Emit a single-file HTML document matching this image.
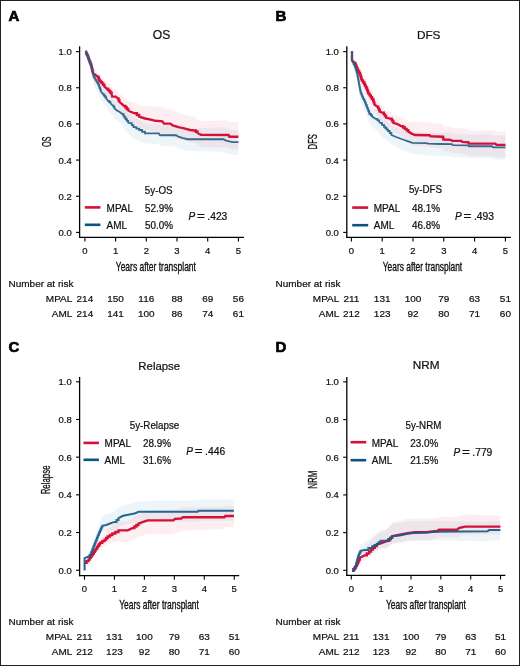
<!DOCTYPE html>
<html><head><meta charset="utf-8"><style>
html,body{margin:0;padding:0;background:#fff;}
svg{display:block;filter:blur(0.4px);}
text{font-family:"Liberation Sans", sans-serif;fill:#111;stroke:#111;stroke-width:0.22px;}
</style></head><body>
<svg width="520" height="666" viewBox="0 0 520 666">
<rect x="0" y="0" width="520" height="666" fill="#fff"/>
<text x="8.5" y="21" font-size="15" text-anchor="start" font-weight="bold" font-style="normal" style="stroke:#000;fill:#000;stroke-width:0.7px">A</text>
<text x="161.5" y="39" font-size="12.1" text-anchor="middle" font-weight="normal" font-style="normal" >OS</text>
<text transform="translate(50.5,141.8) rotate(-90)" x="0" y="0" font-size="12.2" text-anchor="middle" style="stroke-width:0.3px" textLength="10.6" lengthAdjust="spacingAndGlyphs">OS</text>
<path d="M85.40,51.33 L87.60,54.93 L89.40,58.76 L91.20,62.58 L92.40,66.73 L93.00,68.80 L95.40,69.79 L97.80,71.20 L99.60,75.11 L102.00,77.11 L104.40,79.72 L106.80,81.78 L109.20,84.05 L111.60,86.92 L112.20,89.28 L115.80,89.07 L117.60,90.57 L119.40,93.88 L121.80,95.29 L124.10,97.12 L128.20,100.85 L130.00,101.65 L134.60,102.71 L139.20,105.36 L145.00,106.21 L150.80,106.37 L155.40,106.82 L162.30,106.32 L164.00,108.69 L170.40,108.93 L172.70,110.82 L178.40,112.73 L184.20,114.15 L190.00,116.07 L194.30,116.73 L197.60,119.25 L200.80,121.17 L228.60,120.40 L229.40,122.07 L238.40,121.70 L238.40,149.70 L229.40,149.58 L228.60,147.87 L200.80,147.21 L197.60,145.37 L194.30,142.93 L190.00,142.37 L184.20,140.59 L178.40,139.32 L172.70,137.54 L170.40,135.71 L164.00,135.63 L162.30,133.31 L155.40,132.39 L150.80,130.89 L145.00,129.42 L139.20,127.24 L134.60,123.54 L130.00,121.38 L128.20,120.04 L124.10,115.11 L121.80,112.61 L119.40,110.50 L117.60,106.66 L115.80,104.63 L112.20,104.23 L111.60,101.77 L109.20,98.51 L106.80,95.84 L104.40,93.08 L102.00,89.69 L99.60,86.89 L97.80,82.40 L95.40,80.21 L93.00,77.60 L92.40,74.87 L91.20,69.42 L89.40,63.64 L87.60,57.87 L85.40,51.87 Z" fill="rgba(225,30,70,0.075)" stroke="none"/>
<path d="M85.40,51.27 L87.60,54.64 L89.40,58.27 L91.20,61.90 L92.40,65.91 L93.60,71.13 L95.40,73.59 L97.20,76.30 L99.00,79.60 L100.80,84.11 L102.60,86.22 L104.40,88.32 L106.20,90.43 L108.00,92.63 L110.40,94.76 L112.80,96.90 L114.60,99.71 L117.00,101.31 L120.00,102.91 L122.40,104.56 L124.40,107.93 L128.20,112.78 L130.00,113.16 L133.50,117.10 L139.20,120.00 L145.00,123.40 L158.80,123.40 L160.00,125.20 L176.10,124.82 L178.40,126.26 L183.10,127.54 L187.70,128.52 L223.70,127.58 L225.40,128.74 L230.30,129.81 L232.70,130.25 L238.40,130.10 L238.40,155.10 L232.70,154.95 L230.30,154.39 L225.40,153.06 L223.70,151.82 L187.70,150.88 L183.10,149.66 L178.40,148.14 L176.10,146.58 L160.00,146.09 L158.80,144.21 L145.00,143.57 L139.20,140.93 L133.50,138.77 L130.00,134.98 L128.20,134.24 L124.40,128.65 L122.40,124.89 L120.00,122.77 L117.00,120.58 L114.60,118.49 L112.80,115.30 L110.40,112.64 L108.00,109.97 L106.20,107.40 L104.40,105.00 L102.60,102.60 L100.80,100.20 L99.00,95.40 L97.20,91.80 L95.40,88.80 L93.60,85.30 L92.40,78.13 L91.20,72.16 L89.40,65.60 L87.60,59.04 L85.40,52.09 Z" fill="rgba(60,140,185,0.085)" stroke="none"/>
<polyline points="85.40,51.60 86.13,51.60 86.13,53.20 86.87,53.20 86.87,54.80 87.60,54.80 87.60,56.40 88.20,56.40 88.20,58.00 88.80,58.00 88.80,59.60 89.40,59.60 89.40,61.20 90.00,61.20 90.00,62.80 90.60,62.80 90.60,64.40 91.20,64.40 91.20,66.00 91.60,66.00 91.60,67.60 92.00,67.60 92.00,69.20 92.40,69.20 92.40,70.80 92.70,70.80 92.70,72.00 93.00,72.00 93.00,73.20 95.40,75.00 97.80,76.80 98.40,76.80 98.40,78.20 99.00,78.20 99.00,79.60 99.60,79.60 99.60,81.00 100.80,81.00 100.80,82.20 102.00,82.20 102.00,83.40 103.20,83.40 103.20,84.90 104.40,84.90 104.40,86.40 106.80,88.80 108.00,88.80 108.00,90.00 109.20,90.00 109.20,91.20 110.40,91.20 110.40,92.70 111.60,92.70 111.60,94.20 112.20,96.60 115.80,96.60 117.60,98.40 118.50,98.40 118.50,100.20 119.40,100.20 119.40,102.00 121.80,103.80 124.10,106.00 125.47,106.00 125.47,107.47 126.83,107.47 126.83,108.93 128.20,108.93 128.20,110.40 130.00,111.50 134.60,113.30 136.90,113.30 136.90,115.00 139.20,115.00 139.20,116.70 145.00,118.50 150.80,119.60 155.40,120.80 162.30,121.30 164.00,123.60 170.40,123.60 172.70,125.40 178.40,127.10 184.20,128.30 190.00,130.00 194.30,130.50 195.95,130.50 195.95,131.70 197.60,131.70 197.60,132.90 200.80,134.70 228.60,135.00 229.40,136.70 238.40,136.70" fill="none" stroke="#d61039" stroke-width="2.4" stroke-linejoin="miter" stroke-linecap="butt" opacity="1.0"/>
<polyline points="85.40,51.60 86.13,51.60 86.13,53.20 86.87,53.20 86.87,54.80 87.60,54.80 87.60,56.40 88.20,56.40 88.20,58.00 88.80,58.00 88.80,59.60 89.40,59.60 89.40,61.20 90.00,61.20 90.00,62.80 90.60,62.80 90.60,64.40 91.20,64.40 91.20,66.00 91.60,66.00 91.60,67.60 92.00,67.60 92.00,69.20 92.40,69.20 92.40,70.80 92.70,70.80 92.70,72.30 93.00,72.30 93.00,73.80 93.30,73.80 93.30,75.30 93.60,75.30 93.60,76.80 94.50,76.80 94.50,78.30 95.40,78.30 95.40,79.80 96.30,79.80 96.30,81.30 97.20,81.30 97.20,82.80 98.10,82.80 98.10,84.60 99.00,84.60 99.00,86.40 99.60,86.40 99.60,88.00 100.20,88.00 100.20,89.60 100.80,89.60 100.80,91.20 102.60,93.60 103.50,93.60 103.50,94.80 104.40,94.80 104.40,96.00 105.30,96.00 105.30,97.20 106.20,97.20 106.20,98.40 108.00,100.80 109.20,100.80 109.20,102.00 110.40,102.00 110.40,103.20 112.80,105.60 113.70,105.60 113.70,107.10 114.60,107.10 114.60,108.60 117.00,110.40 120.00,112.20 122.40,114.00 123.40,114.00 123.40,115.75 124.40,115.75 124.40,117.50 125.67,117.50 125.67,119.20 126.93,119.20 126.93,120.90 128.20,120.90 128.20,122.60 130.00,123.10 131.75,123.10 131.75,125.10 133.50,125.10 133.50,127.10 136.35,127.10 136.35,128.55 139.20,128.55 139.20,130.00 142.10,130.00 142.10,131.70 145.00,131.70 145.00,133.40 158.80,133.40 160.00,135.20 176.10,135.20 178.40,136.70 183.10,138.10 187.70,139.20 223.70,139.20 225.40,140.40 230.30,141.60 232.70,142.10 238.40,142.10" fill="none" stroke="#235f86" stroke-width="1.85" stroke-linejoin="miter" stroke-linecap="butt" opacity="0.92"/>
<line x1="79.6" y1="46.3" x2="79.6" y2="237.95000000000002" stroke="#000" stroke-width="1.3"/>
<line x1="78.94999999999999" y1="237.3" x2="243.9" y2="237.3" stroke="#000" stroke-width="1.3"/>
<line x1="76.0" y1="232.4" x2="79.6" y2="232.4" stroke="#000" stroke-width="1.1"/>
<text transform="translate(71.70,235.90) scale(1,1.02)" font-size="9.5" text-anchor="end" font-weight="normal" font-style="normal" >0.0</text>
<line x1="76.0" y1="196.24" x2="79.6" y2="196.24" stroke="#000" stroke-width="1.1"/>
<text transform="translate(71.70,199.74) scale(1,1.02)" font-size="9.5" text-anchor="end" font-weight="normal" font-style="normal" >0.2</text>
<line x1="76.0" y1="160.07999999999998" x2="79.6" y2="160.07999999999998" stroke="#000" stroke-width="1.1"/>
<text transform="translate(71.70,163.58) scale(1,1.02)" font-size="9.5" text-anchor="end" font-weight="normal" font-style="normal" >0.4</text>
<line x1="76.0" y1="123.91999999999999" x2="79.6" y2="123.91999999999999" stroke="#000" stroke-width="1.1"/>
<text transform="translate(71.70,127.42) scale(1,1.02)" font-size="9.5" text-anchor="end" font-weight="normal" font-style="normal" >0.6</text>
<line x1="76.0" y1="87.75999999999999" x2="79.6" y2="87.75999999999999" stroke="#000" stroke-width="1.1"/>
<text transform="translate(71.70,91.26) scale(1,1.02)" font-size="9.5" text-anchor="end" font-weight="normal" font-style="normal" >0.8</text>
<line x1="76.0" y1="51.599999999999994" x2="79.6" y2="51.599999999999994" stroke="#000" stroke-width="1.1"/>
<text transform="translate(71.70,55.10) scale(1,1.02)" font-size="9.5" text-anchor="end" font-weight="normal" font-style="normal" >1.0</text>
<line x1="84.9" y1="237.3" x2="84.9" y2="241.5" stroke="#000" stroke-width="1.1"/>
<text transform="translate(84.90,254.20) scale(1,1.03)" font-size="9.5" text-anchor="middle" font-weight="normal" font-style="normal" >0</text>
<line x1="115.60000000000001" y1="237.3" x2="115.60000000000001" y2="241.5" stroke="#000" stroke-width="1.1"/>
<text transform="translate(115.60,254.20) scale(1,1.03)" font-size="9.5" text-anchor="middle" font-weight="normal" font-style="normal" >1</text>
<line x1="146.3" y1="237.3" x2="146.3" y2="241.5" stroke="#000" stroke-width="1.1"/>
<text transform="translate(146.30,254.20) scale(1,1.03)" font-size="9.5" text-anchor="middle" font-weight="normal" font-style="normal" >2</text>
<line x1="177.0" y1="237.3" x2="177.0" y2="241.5" stroke="#000" stroke-width="1.1"/>
<text transform="translate(177.00,254.20) scale(1,1.03)" font-size="9.5" text-anchor="middle" font-weight="normal" font-style="normal" >3</text>
<line x1="207.7" y1="237.3" x2="207.7" y2="241.5" stroke="#000" stroke-width="1.1"/>
<text transform="translate(207.70,254.20) scale(1,1.03)" font-size="9.5" text-anchor="middle" font-weight="normal" font-style="normal" >4</text>
<line x1="238.4" y1="237.3" x2="238.4" y2="241.5" stroke="#000" stroke-width="1.1"/>
<text transform="translate(238.40,254.20) scale(1,1.03)" font-size="9.5" text-anchor="middle" font-weight="normal" font-style="normal" >5</text>
<text x="115.8" y="271.0" font-size="11.9" style="stroke-width:0.35px" textLength="80.1" lengthAdjust="spacingAndGlyphs">Years after transplant</text>
<text transform="translate(158.70,193.50) scale(1,1.08)" font-size="9.8" text-anchor="middle" font-weight="normal" font-style="normal" >5y-OS</text>
<line x1="84.8" y1="207.4" x2="100.4" y2="207.4" stroke="#d61039" stroke-width="2.6"/>
<line x1="84.8" y1="224.8" x2="100.4" y2="224.8" stroke="#0b5481" stroke-width="2.6"/>
<text transform="translate(106.60,211.70) scale(1,1.06)" font-size="10" text-anchor="start" font-weight="normal" font-style="normal" >MPAL</text>
<text transform="translate(106.60,228.60) scale(1,1.06)" font-size="10" text-anchor="start" font-weight="normal" font-style="normal" >AML</text>
<text transform="translate(144.90,211.70) scale(1,1.12)" font-size="9.9" text-anchor="start" font-weight="normal" font-style="normal" >52.9%</text>
<text transform="translate(144.90,228.60) scale(1,1.12)" font-size="9.9" text-anchor="start" font-weight="normal" font-style="normal" >50.0%</text>
<text x="188.4" y="220.2" font-size="10" font-style="italic">P</text>
<text transform="translate(196.90,220.2) scale(1.35,1)" font-size="10">=</text>
<text transform="translate(207.30,220.2) scale(1.03,1.08)" font-size="10">.423</text>
<text transform="translate(8.50,287.00) scale(1,0.99)" font-size="10" text-anchor="start" font-weight="normal" font-style="normal" >Number at risk</text>
<text transform="translate(72.30,302.10) scale(1,0.99)" font-size="10" text-anchor="end" font-weight="normal" font-style="normal" >MPAL</text>
<text transform="translate(72.30,317.20) scale(1,0.99)" font-size="10" text-anchor="end" font-weight="normal" font-style="normal" >AML</text>
<text transform="translate(84.90,302.10) scale(1,0.99)" font-size="10" text-anchor="middle" font-weight="normal" font-style="normal" >214</text>
<text transform="translate(84.90,317.20) scale(1,0.99)" font-size="10" text-anchor="middle" font-weight="normal" font-style="normal" >214</text>
<text transform="translate(115.60,302.10) scale(1,0.99)" font-size="10" text-anchor="middle" font-weight="normal" font-style="normal" >150</text>
<text transform="translate(115.60,317.20) scale(1,0.99)" font-size="10" text-anchor="middle" font-weight="normal" font-style="normal" >141</text>
<text transform="translate(146.30,302.10) scale(1,0.99)" font-size="10" text-anchor="middle" font-weight="normal" font-style="normal" >116</text>
<text transform="translate(146.30,317.20) scale(1,0.99)" font-size="10" text-anchor="middle" font-weight="normal" font-style="normal" >100</text>
<text transform="translate(177.00,302.10) scale(1,0.99)" font-size="10" text-anchor="middle" font-weight="normal" font-style="normal" >88</text>
<text transform="translate(177.00,317.20) scale(1,0.99)" font-size="10" text-anchor="middle" font-weight="normal" font-style="normal" >86</text>
<text transform="translate(207.70,302.10) scale(1,0.99)" font-size="10" text-anchor="middle" font-weight="normal" font-style="normal" >69</text>
<text transform="translate(207.70,317.20) scale(1,0.99)" font-size="10" text-anchor="middle" font-weight="normal" font-style="normal" >74</text>
<text transform="translate(238.40,302.10) scale(1,0.99)" font-size="10" text-anchor="middle" font-weight="normal" font-style="normal" >56</text>
<text transform="translate(238.40,317.20) scale(1,0.99)" font-size="10" text-anchor="middle" font-weight="normal" font-style="normal" >61</text>
<text x="275.5" y="21" font-size="15" text-anchor="start" font-weight="bold" font-style="normal" style="stroke:#000;fill:#000;stroke-width:0.7px">B</text>
<text x="428.7" y="39" font-size="11.8" text-anchor="middle" font-weight="normal" font-style="normal" >DFS</text>
<text transform="translate(317.2,141.75) rotate(-90)" x="0" y="0" font-size="12.2" text-anchor="middle" style="stroke-width:0.3px" textLength="15.3" lengthAdjust="spacingAndGlyphs">DFS</text>
<path d="M352.00,50.52 L352.00,59.32 L352.80,59.61 L354.60,59.36 L356.40,61.52 L358.20,64.14 L360.00,66.41 L361.80,71.68 L364.20,74.56 L366.60,79.65 L368.40,84.67 L370.80,88.56 L373.20,92.45 L374.40,96.20 L377.40,98.84 L379.80,103.72 L382.70,105.02 L386.10,109.83 L390.80,111.28 L393.50,115.29 L397.50,116.37 L401.50,117.91 L404.90,119.39 L408.30,120.88 L411.60,121.70 L415.00,121.89 L429.80,122.29 L430.50,123.29 L442.70,123.74 L443.40,126.44 L450.80,126.81 L452.10,127.81 L461.50,127.77 L462.20,128.77 L468.30,129.04 L468.90,130.44 L495.20,130.34 L496.50,131.63 L505.50,131.60 L505.50,157.90 L496.50,157.70 L495.20,156.37 L468.90,155.78 L468.30,154.37 L462.20,153.93 L461.50,152.92 L452.10,152.71 L450.80,151.68 L443.40,151.11 L442.70,148.40 L430.50,147.62 L429.80,146.61 L415.00,145.91 L411.60,144.24 L408.30,141.97 L404.90,138.99 L401.50,136.02 L397.50,133.69 L393.50,132.07 L390.80,127.76 L386.10,126.15 L382.70,121.23 L379.80,119.84 L377.40,114.89 L374.40,112.40 L373.20,108.80 L370.80,105.20 L368.40,101.60 L366.60,96.80 L364.20,92.00 L361.80,87.78 L360.00,81.19 L358.20,77.61 L356.40,72.07 L354.60,66.12 L352.80,62.56 L352.00,60.58 L352.00,51.78 Z" fill="rgba(225,30,70,0.075)" stroke="none"/>
<path d="M352.00,50.62 L352.00,59.42 L352.80,61.04 L355.20,63.50 L357.00,67.75 L358.20,72.99 L359.40,79.80 L360.60,85.41 L362.40,89.63 L364.80,93.91 L367.20,99.72 L369.60,105.52 L372.00,107.73 L375.60,109.84 L379.20,112.80 L380.00,113.90 L384.00,117.90 L388.10,122.00 L391.40,126.00 L396.20,127.61 L401.50,129.18 L406.90,130.75 L412.30,132.11 L425.80,131.99 L428.50,132.56 L440.00,132.73 L452.10,132.80 L452.80,133.79 L468.30,133.72 L468.90,134.61 L491.80,134.35 L493.20,135.44 L505.50,135.30 L505.50,159.50 L493.20,159.47 L491.80,158.36 L468.90,158.31 L468.30,157.40 L452.80,157.26 L452.10,156.26 L440.00,156.03 L428.50,155.70 L425.80,154.89 L412.30,153.68 L406.90,151.70 L401.50,149.53 L396.20,147.02 L391.40,144.51 L388.10,141.40 L384.00,138.41 L380.00,134.54 L379.20,133.31 L375.60,129.73 L372.00,126.74 L369.60,123.95 L367.20,117.56 L364.80,111.18 L362.40,105.99 L360.60,100.89 L359.40,94.70 L358.20,87.30 L357.00,80.47 L355.20,72.14 L352.80,64.22 L352.00,60.78 L352.00,51.98 Z" fill="rgba(60,140,185,0.085)" stroke="none"/>
<polyline points="352.00,51.20 352.00,60.00 352.80,61.20 354.60,63.00 355.20,63.00 355.20,64.40 355.80,64.40 355.80,65.80 356.40,65.80 356.40,67.20 357.00,67.20 357.00,68.60 357.60,68.60 357.60,70.00 358.20,70.00 358.20,71.40 359.10,71.40 359.10,72.90 360.00,72.90 360.00,74.40 360.45,74.40 360.45,75.90 360.90,75.90 360.90,77.40 361.35,77.40 361.35,78.90 361.80,78.90 361.80,80.40 363.00,80.40 363.00,82.20 364.20,82.20 364.20,84.00 365.00,84.00 365.00,85.60 365.80,85.60 365.80,87.20 366.60,87.20 366.60,88.80 367.20,88.80 367.20,90.40 367.80,90.40 367.80,92.00 368.40,92.00 368.40,93.60 369.60,93.60 369.60,95.40 370.80,95.40 370.80,97.20 372.00,97.20 372.00,99.00 373.20,99.00 373.20,100.80 373.80,100.80 373.80,102.60 374.40,102.60 374.40,104.40 377.40,106.80 378.20,106.80 378.20,108.40 379.00,108.40 379.00,110.00 379.80,110.00 379.80,111.60 382.70,112.80 383.83,112.80 383.83,114.37 384.97,114.37 384.97,115.93 386.10,115.93 386.10,117.50 390.80,118.80 391.70,118.80 391.70,120.17 392.60,120.17 392.60,121.53 393.50,121.53 393.50,122.90 397.50,124.20 401.50,126.20 403.20,126.20 403.20,127.55 404.90,127.55 404.90,128.90 406.60,128.90 406.60,130.25 408.30,130.25 408.30,131.60 411.60,133.60 415.00,135.00 429.80,135.30 430.50,136.30 442.70,136.80 443.05,136.80 443.05,138.15 443.40,138.15 443.40,139.50 450.80,139.90 452.10,140.90 461.50,140.90 462.20,141.90 468.30,142.20 468.90,143.60 495.20,143.60 496.50,144.90 505.50,144.90" fill="none" stroke="#d61039" stroke-width="2.4" stroke-linejoin="miter" stroke-linecap="butt" opacity="1.0"/>
<polyline points="352.00,51.20 352.00,60.00 352.80,62.40 353.60,62.40 353.60,64.00 354.40,64.00 354.40,65.60 355.20,65.60 355.20,67.20 355.65,67.20 355.65,68.70 356.10,68.70 356.10,70.20 356.55,70.20 356.55,71.70 357.00,71.70 357.00,73.20 357.30,73.20 357.30,74.70 357.60,74.70 357.60,76.20 357.90,76.20 357.90,77.70 358.20,77.70 358.20,79.20 358.44,79.20 358.44,80.64 358.68,80.64 358.68,82.08 358.92,82.08 358.92,83.52 359.16,83.52 359.16,84.96 359.40,84.96 359.40,86.40 359.70,86.40 359.70,87.90 360.00,87.90 360.00,89.40 360.30,89.40 360.30,90.90 360.60,90.90 360.60,92.40 361.20,92.40 361.20,94.00 361.80,94.00 361.80,95.60 362.40,95.60 362.40,97.20 363.20,97.20 363.20,98.80 364.00,98.80 364.00,100.40 364.80,100.40 364.80,102.00 365.40,102.00 365.40,103.50 366.00,103.50 366.00,105.00 366.60,105.00 366.60,106.50 367.20,106.50 367.20,108.00 367.80,108.00 367.80,109.50 368.40,109.50 368.40,111.00 369.00,111.00 369.00,112.50 369.60,112.50 369.60,114.00 370.80,114.00 370.80,115.20 372.00,115.20 372.00,116.40 375.60,118.80 377.40,118.80 377.40,120.30 379.20,120.30 379.20,121.80 380.00,122.90 382.00,122.90 382.00,124.90 384.00,124.90 384.00,126.90 385.37,126.90 385.37,128.27 386.73,128.27 386.73,129.63 388.10,129.63 388.10,131.00 389.75,131.00 389.75,133.00 391.40,133.00 391.40,135.00 396.20,137.00 401.50,139.00 406.90,141.00 412.30,142.80 425.80,143.10 428.50,143.70 440.00,144.00 452.10,144.20 452.80,145.20 468.30,145.30 468.90,146.20 491.80,146.20 493.20,147.30 505.50,147.30" fill="none" stroke="#235f86" stroke-width="1.85" stroke-linejoin="miter" stroke-linecap="butt" opacity="0.92"/>
<line x1="346.8" y1="46.3" x2="346.8" y2="238.05" stroke="#000" stroke-width="1.3"/>
<line x1="346.15000000000003" y1="237.4" x2="510.9" y2="237.4" stroke="#000" stroke-width="1.3"/>
<line x1="343.2" y1="232.4" x2="346.8" y2="232.4" stroke="#000" stroke-width="1.1"/>
<text transform="translate(338.90,235.90) scale(1,1.02)" font-size="9.5" text-anchor="end" font-weight="normal" font-style="normal" >0.0</text>
<line x1="343.2" y1="196.24" x2="346.8" y2="196.24" stroke="#000" stroke-width="1.1"/>
<text transform="translate(338.90,199.74) scale(1,1.02)" font-size="9.5" text-anchor="end" font-weight="normal" font-style="normal" >0.2</text>
<line x1="343.2" y1="160.07999999999998" x2="346.8" y2="160.07999999999998" stroke="#000" stroke-width="1.1"/>
<text transform="translate(338.90,163.58) scale(1,1.02)" font-size="9.5" text-anchor="end" font-weight="normal" font-style="normal" >0.4</text>
<line x1="343.2" y1="123.91999999999999" x2="346.8" y2="123.91999999999999" stroke="#000" stroke-width="1.1"/>
<text transform="translate(338.90,127.42) scale(1,1.02)" font-size="9.5" text-anchor="end" font-weight="normal" font-style="normal" >0.6</text>
<line x1="343.2" y1="87.75999999999999" x2="346.8" y2="87.75999999999999" stroke="#000" stroke-width="1.1"/>
<text transform="translate(338.90,91.26) scale(1,1.02)" font-size="9.5" text-anchor="end" font-weight="normal" font-style="normal" >0.8</text>
<line x1="343.2" y1="51.599999999999994" x2="346.8" y2="51.599999999999994" stroke="#000" stroke-width="1.1"/>
<text transform="translate(338.90,55.10) scale(1,1.02)" font-size="9.5" text-anchor="end" font-weight="normal" font-style="normal" >1.0</text>
<line x1="351.4" y1="237.4" x2="351.4" y2="241.6" stroke="#000" stroke-width="1.1"/>
<text transform="translate(351.40,254.20) scale(1,1.03)" font-size="9.5" text-anchor="middle" font-weight="normal" font-style="normal" >0</text>
<line x1="382.2" y1="237.4" x2="382.2" y2="241.6" stroke="#000" stroke-width="1.1"/>
<text transform="translate(382.20,254.20) scale(1,1.03)" font-size="9.5" text-anchor="middle" font-weight="normal" font-style="normal" >1</text>
<line x1="413.0" y1="237.4" x2="413.0" y2="241.6" stroke="#000" stroke-width="1.1"/>
<text transform="translate(413.00,254.20) scale(1,1.03)" font-size="9.5" text-anchor="middle" font-weight="normal" font-style="normal" >2</text>
<line x1="443.79999999999995" y1="237.4" x2="443.79999999999995" y2="241.6" stroke="#000" stroke-width="1.1"/>
<text transform="translate(443.80,254.20) scale(1,1.03)" font-size="9.5" text-anchor="middle" font-weight="normal" font-style="normal" >3</text>
<line x1="474.59999999999997" y1="237.4" x2="474.59999999999997" y2="241.6" stroke="#000" stroke-width="1.1"/>
<text transform="translate(474.60,254.20) scale(1,1.03)" font-size="9.5" text-anchor="middle" font-weight="normal" font-style="normal" >4</text>
<line x1="505.4" y1="237.4" x2="505.4" y2="241.6" stroke="#000" stroke-width="1.1"/>
<text transform="translate(505.40,254.20) scale(1,1.03)" font-size="9.5" text-anchor="middle" font-weight="normal" font-style="normal" >5</text>
<text x="382.8" y="270.9" font-size="11.9" style="stroke-width:0.35px" textLength="79.39999999999995" lengthAdjust="spacingAndGlyphs">Years after transplant</text>
<text transform="translate(425.50,193.20) scale(1,1.08)" font-size="9.8" text-anchor="middle" font-weight="normal" font-style="normal" >5y-DFS</text>
<line x1="352.2" y1="207.6" x2="368.2" y2="207.6" stroke="#d61039" stroke-width="2.6"/>
<line x1="352.2" y1="225.2" x2="368.2" y2="225.2" stroke="#0b5481" stroke-width="2.6"/>
<text transform="translate(373.80,211.50) scale(1,1.06)" font-size="10" text-anchor="start" font-weight="normal" font-style="normal" >MPAL</text>
<text transform="translate(373.80,229.00) scale(1,1.06)" font-size="10" text-anchor="start" font-weight="normal" font-style="normal" >AML</text>
<text transform="translate(412.00,211.50) scale(1,1.12)" font-size="9.9" text-anchor="start" font-weight="normal" font-style="normal" >48.1%</text>
<text transform="translate(412.00,229.00) scale(1,1.12)" font-size="9.9" text-anchor="start" font-weight="normal" font-style="normal" >46.8%</text>
<text x="455.0" y="220.1" font-size="10" font-style="italic">P</text>
<text transform="translate(463.50,220.1) scale(1.35,1)" font-size="10">=</text>
<text transform="translate(473.90,220.1) scale(1.03,1.08)" font-size="10">.493</text>
<text transform="translate(275.50,287.00) scale(1,0.99)" font-size="10" text-anchor="start" font-weight="normal" font-style="normal" >Number at risk</text>
<text transform="translate(339.30,302.10) scale(1,0.99)" font-size="10" text-anchor="end" font-weight="normal" font-style="normal" >MPAL</text>
<text transform="translate(339.30,317.20) scale(1,0.99)" font-size="10" text-anchor="end" font-weight="normal" font-style="normal" >AML</text>
<text transform="translate(351.40,302.10) scale(1,0.99)" font-size="10" text-anchor="middle" font-weight="normal" font-style="normal" >211</text>
<text transform="translate(351.40,317.20) scale(1,0.99)" font-size="10" text-anchor="middle" font-weight="normal" font-style="normal" >212</text>
<text transform="translate(382.20,302.10) scale(1,0.99)" font-size="10" text-anchor="middle" font-weight="normal" font-style="normal" >131</text>
<text transform="translate(382.20,317.20) scale(1,0.99)" font-size="10" text-anchor="middle" font-weight="normal" font-style="normal" >123</text>
<text transform="translate(413.00,302.10) scale(1,0.99)" font-size="10" text-anchor="middle" font-weight="normal" font-style="normal" >100</text>
<text transform="translate(413.00,317.20) scale(1,0.99)" font-size="10" text-anchor="middle" font-weight="normal" font-style="normal" >92</text>
<text transform="translate(443.80,302.10) scale(1,0.99)" font-size="10" text-anchor="middle" font-weight="normal" font-style="normal" >79</text>
<text transform="translate(443.80,317.20) scale(1,0.99)" font-size="10" text-anchor="middle" font-weight="normal" font-style="normal" >80</text>
<text transform="translate(474.60,302.10) scale(1,0.99)" font-size="10" text-anchor="middle" font-weight="normal" font-style="normal" >63</text>
<text transform="translate(474.60,317.20) scale(1,0.99)" font-size="10" text-anchor="middle" font-weight="normal" font-style="normal" >71</text>
<text transform="translate(505.40,302.10) scale(1,0.99)" font-size="10" text-anchor="middle" font-weight="normal" font-style="normal" >51</text>
<text transform="translate(505.40,317.20) scale(1,0.99)" font-size="10" text-anchor="middle" font-weight="normal" font-style="normal" >60</text>
<text x="8.5" y="351.9" font-size="15" text-anchor="start" font-weight="bold" font-style="normal" style="stroke:#000;fill:#000;stroke-width:0.7px">C</text>
<text x="159.25" y="369.9" font-size="11.4" text-anchor="middle" font-weight="normal" font-style="normal" >Relapse</text>
<text transform="translate(50.3,479.9) rotate(-90)" x="0" y="0" font-size="12.2" text-anchor="middle" style="stroke-width:0.3px" textLength="28.8" lengthAdjust="spacingAndGlyphs">Relapse</text>
<path d="M84.60,562.67 L88.50,558.26 L93.80,548.79 L100.00,537.52 L104.60,533.17 L107.70,529.45 L112.30,525.53 L118.50,521.37 L127.70,521.16 L132.30,518.75 L138.50,514.00 L143.10,512.29 L147.70,510.68 L173.40,510.30 L175.10,508.90 L181.10,508.50 L182.90,507.30 L224.40,507.30 L225.30,506.00 L233.90,506.00 L233.90,527.22 L225.30,527.61 L224.40,528.95 L182.90,530.83 L181.10,532.11 L175.10,532.79 L173.40,534.26 L147.70,534.11 L143.10,535.26 L138.50,536.51 L132.30,540.46 L127.70,542.28 L118.50,541.31 L112.30,542.65 L107.70,544.18 L104.60,546.28 L100.00,547.88 L93.80,555.01 L88.50,560.94 L84.60,562.73 Z" fill="rgba(225,30,70,0.075)" stroke="none"/>
<path d="M84.60,570.34 L84.60,558.04 L88.50,554.16 L90.80,549.82 L93.80,540.37 L96.90,530.85 L100.00,521.34 L102.30,515.40 L106.20,514.45 L110.00,512.90 L114.60,511.24 L118.50,507.41 L123.10,505.13 L130.80,503.56 L135.40,502.59 L138.50,501.20 L197.60,500.45 L198.40,499.45 L233.90,499.50 L233.90,520.80 L198.40,520.80 L197.60,521.80 L138.50,521.30 L135.40,522.63 L130.80,523.52 L123.10,524.93 L118.50,527.13 L114.60,530.33 L110.00,531.01 L106.20,531.75 L102.30,531.74 L100.00,535.58 L96.90,542.24 L93.80,548.91 L90.80,555.60 L88.50,557.84 L84.60,558.13 L84.60,570.43 Z" fill="rgba(60,140,185,0.085)" stroke="none"/>
<polyline points="84.60,562.70 86.55,562.70 86.55,561.15 88.50,561.15 88.50,559.60 89.56,559.60 89.56,558.06 90.62,558.06 90.62,556.52 91.68,556.52 91.68,554.98 92.74,554.98 92.74,553.44 93.80,553.44 93.80,551.90 94.83,551.90 94.83,550.37 95.87,550.37 95.87,548.83 96.90,548.83 96.90,547.30 97.93,547.30 97.93,545.77 98.97,545.77 98.97,544.23 100.00,544.23 100.00,542.70 102.30,542.70 102.30,541.15 104.60,541.15 104.60,539.60 106.15,539.60 106.15,538.05 107.70,538.05 107.70,536.50 110.00,536.50 110.00,535.00 112.30,535.00 112.30,533.50 115.40,533.50 115.40,531.95 118.50,531.95 118.50,530.40 127.70,530.40 132.30,528.10 134.37,528.10 134.37,526.57 136.43,526.57 136.43,525.03 138.50,525.03 138.50,523.50 143.10,521.90 147.70,520.40 173.40,520.30 175.10,518.90 181.10,518.50 182.90,517.30 224.40,517.30 225.30,516.00 233.90,516.00" fill="none" stroke="#d61039" stroke-width="2.4" stroke-linejoin="miter" stroke-linecap="butt" opacity="1.0"/>
<polyline points="84.60,570.40 84.60,558.10 88.50,556.50 89.65,556.50 89.65,555.00 90.80,555.00 90.80,553.50 91.40,553.50 91.40,551.96 92.00,551.96 92.00,550.42 92.60,550.42 92.60,548.88 93.20,548.88 93.20,547.34 93.80,547.34 93.80,545.80 94.42,545.80 94.42,544.26 95.04,544.26 95.04,542.72 95.66,542.72 95.66,541.18 96.28,541.18 96.28,539.64 96.90,539.64 96.90,538.10 97.52,538.10 97.52,536.56 98.14,536.56 98.14,535.02 98.76,535.02 98.76,533.48 99.38,533.48 99.38,531.94 100.00,531.94 100.00,530.40 100.77,530.40 100.77,528.87 101.53,528.87 101.53,527.33 102.30,527.33 102.30,525.80 106.20,525.00 110.00,523.50 114.60,521.90 116.55,521.90 116.55,520.00 118.50,520.00 118.50,518.10 123.10,515.80 130.80,514.20 135.40,513.20 138.50,511.80 197.60,511.80 198.40,510.80 233.90,510.80" fill="none" stroke="#15598a" stroke-width="2.0" stroke-linejoin="miter" stroke-linecap="butt" opacity="0.92"/>
<line x1="79.6" y1="376.9" x2="79.6" y2="576.25" stroke="#000" stroke-width="1.3"/>
<line x1="78.94999999999999" y1="575.6" x2="239.2" y2="575.6" stroke="#000" stroke-width="1.3"/>
<line x1="76.0" y1="570.2" x2="79.6" y2="570.2" stroke="#000" stroke-width="1.1"/>
<text transform="translate(71.70,573.70) scale(1,1.02)" font-size="9.5" text-anchor="end" font-weight="normal" font-style="normal" >0.0</text>
<line x1="76.0" y1="532.5200000000001" x2="79.6" y2="532.5200000000001" stroke="#000" stroke-width="1.1"/>
<text transform="translate(71.70,536.02) scale(1,1.02)" font-size="9.5" text-anchor="end" font-weight="normal" font-style="normal" >0.2</text>
<line x1="76.0" y1="494.84000000000003" x2="79.6" y2="494.84000000000003" stroke="#000" stroke-width="1.1"/>
<text transform="translate(71.70,498.34) scale(1,1.02)" font-size="9.5" text-anchor="end" font-weight="normal" font-style="normal" >0.4</text>
<line x1="76.0" y1="457.16" x2="79.6" y2="457.16" stroke="#000" stroke-width="1.1"/>
<text transform="translate(71.70,460.66) scale(1,1.02)" font-size="9.5" text-anchor="end" font-weight="normal" font-style="normal" >0.6</text>
<line x1="76.0" y1="419.48" x2="79.6" y2="419.48" stroke="#000" stroke-width="1.1"/>
<text transform="translate(71.70,422.98) scale(1,1.02)" font-size="9.5" text-anchor="end" font-weight="normal" font-style="normal" >0.8</text>
<line x1="76.0" y1="381.80000000000007" x2="79.6" y2="381.80000000000007" stroke="#000" stroke-width="1.1"/>
<text transform="translate(71.70,385.30) scale(1,1.02)" font-size="9.5" text-anchor="end" font-weight="normal" font-style="normal" >1.0</text>
<line x1="84.5" y1="575.6" x2="84.5" y2="579.8000000000001" stroke="#000" stroke-width="1.1"/>
<text transform="translate(84.50,592.20) scale(1,1.03)" font-size="9.5" text-anchor="middle" font-weight="normal" font-style="normal" >0</text>
<line x1="114.45" y1="575.6" x2="114.45" y2="579.8000000000001" stroke="#000" stroke-width="1.1"/>
<text transform="translate(114.45,592.20) scale(1,1.03)" font-size="9.5" text-anchor="middle" font-weight="normal" font-style="normal" >1</text>
<line x1="144.4" y1="575.6" x2="144.4" y2="579.8000000000001" stroke="#000" stroke-width="1.1"/>
<text transform="translate(144.40,592.20) scale(1,1.03)" font-size="9.5" text-anchor="middle" font-weight="normal" font-style="normal" >2</text>
<line x1="174.35" y1="575.6" x2="174.35" y2="579.8000000000001" stroke="#000" stroke-width="1.1"/>
<text transform="translate(174.35,592.20) scale(1,1.03)" font-size="9.5" text-anchor="middle" font-weight="normal" font-style="normal" >3</text>
<line x1="204.3" y1="575.6" x2="204.3" y2="579.8000000000001" stroke="#000" stroke-width="1.1"/>
<text transform="translate(204.30,592.20) scale(1,1.03)" font-size="9.5" text-anchor="middle" font-weight="normal" font-style="normal" >4</text>
<line x1="234.25" y1="575.6" x2="234.25" y2="579.8000000000001" stroke="#000" stroke-width="1.1"/>
<text transform="translate(234.25,592.20) scale(1,1.03)" font-size="9.5" text-anchor="middle" font-weight="normal" font-style="normal" >5</text>
<text x="119.2" y="608.5" font-size="11.9" style="stroke-width:0.35px" textLength="79.69999999999999" lengthAdjust="spacingAndGlyphs">Years after transplant</text>
<text transform="translate(154.50,428.50) scale(1,1.08)" font-size="9.8" text-anchor="middle" font-weight="normal" font-style="normal" >5y-Relapse</text>
<line x1="83.5" y1="442.9" x2="98.9" y2="442.9" stroke="#d61039" stroke-width="2.6"/>
<line x1="83.5" y1="459.8" x2="98.9" y2="459.8" stroke="#0b5481" stroke-width="2.6"/>
<text transform="translate(104.60,446.70) scale(1,1.06)" font-size="10" text-anchor="start" font-weight="normal" font-style="normal" >MPAL</text>
<text transform="translate(104.60,463.70) scale(1,1.06)" font-size="10" text-anchor="start" font-weight="normal" font-style="normal" >AML</text>
<text transform="translate(143.00,446.70) scale(1,1.12)" font-size="9.9" text-anchor="start" font-weight="normal" font-style="normal" >28.9%</text>
<text transform="translate(143.00,463.70) scale(1,1.12)" font-size="9.9" text-anchor="start" font-weight="normal" font-style="normal" >31.6%</text>
<text x="186.2" y="455.3" font-size="10" font-style="italic">P</text>
<text transform="translate(194.70,455.3) scale(1.35,1)" font-size="10">=</text>
<text transform="translate(205.10,455.3) scale(1.03,1.08)" font-size="10">.446</text>
<text transform="translate(8.50,624.70) scale(1,0.99)" font-size="10" text-anchor="start" font-weight="normal" font-style="normal" >Number at risk</text>
<text transform="translate(72.30,639.80) scale(1,0.99)" font-size="10" text-anchor="end" font-weight="normal" font-style="normal" >MPAL</text>
<text transform="translate(72.30,655.00) scale(1,0.99)" font-size="10" text-anchor="end" font-weight="normal" font-style="normal" >AML</text>
<text transform="translate(84.50,639.80) scale(1,0.99)" font-size="10" text-anchor="middle" font-weight="normal" font-style="normal" >211</text>
<text transform="translate(84.50,655.00) scale(1,0.99)" font-size="10" text-anchor="middle" font-weight="normal" font-style="normal" >212</text>
<text transform="translate(114.45,639.80) scale(1,0.99)" font-size="10" text-anchor="middle" font-weight="normal" font-style="normal" >131</text>
<text transform="translate(114.45,655.00) scale(1,0.99)" font-size="10" text-anchor="middle" font-weight="normal" font-style="normal" >123</text>
<text transform="translate(144.40,639.80) scale(1,0.99)" font-size="10" text-anchor="middle" font-weight="normal" font-style="normal" >100</text>
<text transform="translate(144.40,655.00) scale(1,0.99)" font-size="10" text-anchor="middle" font-weight="normal" font-style="normal" >92</text>
<text transform="translate(174.35,639.80) scale(1,0.99)" font-size="10" text-anchor="middle" font-weight="normal" font-style="normal" >79</text>
<text transform="translate(174.35,655.00) scale(1,0.99)" font-size="10" text-anchor="middle" font-weight="normal" font-style="normal" >80</text>
<text transform="translate(204.30,639.80) scale(1,0.99)" font-size="10" text-anchor="middle" font-weight="normal" font-style="normal" >63</text>
<text transform="translate(204.30,655.00) scale(1,0.99)" font-size="10" text-anchor="middle" font-weight="normal" font-style="normal" >71</text>
<text transform="translate(234.25,639.80) scale(1,0.99)" font-size="10" text-anchor="middle" font-weight="normal" font-style="normal" >51</text>
<text transform="translate(234.25,655.00) scale(1,0.99)" font-size="10" text-anchor="middle" font-weight="normal" font-style="normal" >60</text>
<text x="275.5" y="351.7" font-size="15" text-anchor="start" font-weight="bold" font-style="normal" style="stroke:#000;fill:#000;stroke-width:0.7px">D</text>
<text x="426.2" y="369.4" font-size="11.8" text-anchor="middle" font-weight="normal" font-style="normal" >NRM</text>
<text transform="translate(316.9,479.6) rotate(-90)" x="0" y="0" font-size="12.2" text-anchor="middle" style="stroke-width:0.3px" textLength="18.2" lengthAdjust="spacingAndGlyphs">NRM</text>
<path d="M352.20,570.13 L356.80,560.51 L359.80,551.57 L364.50,547.90 L369.10,542.86 L372.90,538.21 L376.80,534.38 L381.40,532.27 L387.50,529.15 L392.20,522.80 L399.80,520.60 L407.50,519.10 L415.20,518.44 L426.00,518.80 L437.30,517.88 L439.00,516.64 L457.20,517.25 L458.90,515.60 L465.00,514.41 L500.40,515.59 L500.40,534.60 L465.00,534.40 L458.90,535.77 L457.20,537.46 L439.00,537.36 L437.30,538.65 L426.00,539.88 L415.20,539.82 L407.50,540.52 L399.80,541.83 L392.20,543.25 L387.50,547.69 L381.40,549.74 L376.80,551.04 L372.90,553.98 L369.10,557.62 L364.50,560.71 L359.80,561.12 L356.80,566.81 L352.20,571.16 Z" fill="rgba(225,30,70,0.075)" stroke="none"/>
<path d="M352.20,570.13 L355.20,564.80 L358.30,550.19 L360.60,544.44 L364.50,542.50 L372.20,536.87 L376.80,533.58 L380.60,530.07 L386.00,529.35 L392.20,523.50 L399.80,522.77 L407.50,521.60 L413.70,521.19 L426.00,521.10 L436.40,520.65 L487.50,521.86 L489.20,520.72 L500.40,521.09 L500.40,540.50 L489.20,540.20 L487.50,541.35 L436.40,540.48 L426.00,541.00 L413.70,541.17 L407.50,541.72 L399.80,543.13 L392.20,543.75 L386.00,548.04 L380.60,547.70 L376.80,550.46 L372.20,552.58 L364.50,555.31 L360.60,554.54 L358.30,558.21 L355.20,569.27 L352.20,571.16 Z" fill="rgba(60,140,185,0.085)" stroke="none"/>
<polyline points="352.20,570.80 353.35,570.80 353.35,569.25 354.50,569.25 354.50,567.70 355.65,567.70 355.65,566.15 356.80,566.15 356.80,564.60 357.55,564.60 357.55,562.88 358.30,562.88 358.30,561.15 359.05,561.15 359.05,559.43 359.80,559.43 359.80,557.70 364.50,555.40 366.80,555.40 366.80,553.45 369.10,553.45 369.10,551.50 371.00,551.50 371.00,549.60 372.90,549.60 372.90,547.70 374.85,547.70 374.85,546.15 376.80,546.15 376.80,544.60 381.40,543.10 387.50,540.80 389.07,540.80 389.07,539.27 390.63,539.27 390.63,537.73 392.20,537.73 392.20,536.20 399.80,534.60 407.50,533.10 415.20,532.30 426.00,532.30 437.30,531.00 439.00,529.70 457.20,529.70 458.90,528.00 465.00,526.60 500.40,526.60" fill="none" stroke="#d61039" stroke-width="2.4" stroke-linejoin="miter" stroke-linecap="butt" opacity="1.0"/>
<polyline points="352.20,570.80 353.70,570.80 353.70,569.25 355.20,569.25 355.20,567.70 355.59,567.70 355.59,566.16 355.98,566.16 355.98,564.62 356.36,564.62 356.36,563.09 356.75,563.09 356.75,561.55 357.14,561.55 357.14,560.01 357.52,560.01 357.52,558.48 357.91,558.48 357.91,556.94 358.30,556.94 358.30,555.40 359.07,555.40 359.07,553.87 359.83,553.87 359.83,552.33 360.60,552.33 360.60,550.80 364.50,550.00 368.35,550.00 368.35,548.10 372.20,548.10 372.20,546.20 374.50,546.20 374.50,545.00 376.80,545.00 376.80,543.80 378.70,543.80 378.70,542.30 380.60,542.30 380.60,540.80 386.00,540.80 388.07,540.80 388.07,539.27 390.13,539.27 390.13,537.73 392.20,537.73 392.20,536.20 399.80,535.40 407.50,533.80 413.70,533.10 426.00,532.60 436.40,531.80 487.50,531.30 489.20,530.10 500.40,530.10" fill="none" stroke="#15598a" stroke-width="2.0" stroke-linejoin="miter" stroke-linecap="butt" opacity="0.92"/>
<line x1="346.8" y1="376.9" x2="346.8" y2="576.05" stroke="#000" stroke-width="1.3"/>
<line x1="346.15000000000003" y1="575.4" x2="505.4" y2="575.4" stroke="#000" stroke-width="1.3"/>
<line x1="343.2" y1="570.3" x2="346.8" y2="570.3" stroke="#000" stroke-width="1.1"/>
<text transform="translate(338.90,573.80) scale(1,1.02)" font-size="9.5" text-anchor="end" font-weight="normal" font-style="normal" >0.0</text>
<line x1="343.2" y1="532.62" x2="346.8" y2="532.62" stroke="#000" stroke-width="1.1"/>
<text transform="translate(338.90,536.12) scale(1,1.02)" font-size="9.5" text-anchor="end" font-weight="normal" font-style="normal" >0.2</text>
<line x1="343.2" y1="494.93999999999994" x2="346.8" y2="494.93999999999994" stroke="#000" stroke-width="1.1"/>
<text transform="translate(338.90,498.44) scale(1,1.02)" font-size="9.5" text-anchor="end" font-weight="normal" font-style="normal" >0.4</text>
<line x1="343.2" y1="457.25999999999993" x2="346.8" y2="457.25999999999993" stroke="#000" stroke-width="1.1"/>
<text transform="translate(338.90,460.76) scale(1,1.02)" font-size="9.5" text-anchor="end" font-weight="normal" font-style="normal" >0.6</text>
<line x1="343.2" y1="419.5799999999999" x2="346.8" y2="419.5799999999999" stroke="#000" stroke-width="1.1"/>
<text transform="translate(338.90,423.08) scale(1,1.02)" font-size="9.5" text-anchor="end" font-weight="normal" font-style="normal" >0.8</text>
<line x1="343.2" y1="381.9" x2="346.8" y2="381.9" stroke="#000" stroke-width="1.1"/>
<text transform="translate(338.90,385.40) scale(1,1.02)" font-size="9.5" text-anchor="end" font-weight="normal" font-style="normal" >1.0</text>
<line x1="351.3" y1="575.4" x2="351.3" y2="579.6" stroke="#000" stroke-width="1.1"/>
<text transform="translate(351.30,592.20) scale(1,1.03)" font-size="9.5" text-anchor="middle" font-weight="normal" font-style="normal" >0</text>
<line x1="381.15000000000003" y1="575.4" x2="381.15000000000003" y2="579.6" stroke="#000" stroke-width="1.1"/>
<text transform="translate(381.15,592.20) scale(1,1.03)" font-size="9.5" text-anchor="middle" font-weight="normal" font-style="normal" >1</text>
<line x1="411.0" y1="575.4" x2="411.0" y2="579.6" stroke="#000" stroke-width="1.1"/>
<text transform="translate(411.00,592.20) scale(1,1.03)" font-size="9.5" text-anchor="middle" font-weight="normal" font-style="normal" >2</text>
<line x1="440.85" y1="575.4" x2="440.85" y2="579.6" stroke="#000" stroke-width="1.1"/>
<text transform="translate(440.85,592.20) scale(1,1.03)" font-size="9.5" text-anchor="middle" font-weight="normal" font-style="normal" >3</text>
<line x1="470.70000000000005" y1="575.4" x2="470.70000000000005" y2="579.6" stroke="#000" stroke-width="1.1"/>
<text transform="translate(470.70,592.20) scale(1,1.03)" font-size="9.5" text-anchor="middle" font-weight="normal" font-style="normal" >4</text>
<line x1="500.55" y1="575.4" x2="500.55" y2="579.6" stroke="#000" stroke-width="1.1"/>
<text transform="translate(500.55,592.20) scale(1,1.03)" font-size="9.5" text-anchor="middle" font-weight="normal" font-style="normal" >5</text>
<text x="386.0" y="608.8" font-size="11.9" style="stroke-width:0.35px" textLength="79.9" lengthAdjust="spacingAndGlyphs">Years after transplant</text>
<text transform="translate(423.40,428.80) scale(1,1.08)" font-size="9.8" text-anchor="middle" font-weight="normal" font-style="normal" >5y-NRM</text>
<line x1="350.6" y1="442.2" x2="366.2" y2="442.2" stroke="#d61039" stroke-width="2.6"/>
<line x1="350.6" y1="460.2" x2="366.2" y2="460.2" stroke="#0b5481" stroke-width="2.6"/>
<text transform="translate(371.80,446.70) scale(1,1.06)" font-size="10" text-anchor="start" font-weight="normal" font-style="normal" >MPAL</text>
<text transform="translate(371.80,464.20) scale(1,1.06)" font-size="10" text-anchor="start" font-weight="normal" font-style="normal" >AML</text>
<text transform="translate(410.20,446.70) scale(1,1.12)" font-size="9.9" text-anchor="start" font-weight="normal" font-style="normal" >23.0%</text>
<text transform="translate(410.20,464.20) scale(1,1.12)" font-size="9.9" text-anchor="start" font-weight="normal" font-style="normal" >21.5%</text>
<text x="453.4" y="455.6" font-size="10" font-style="italic">P</text>
<text transform="translate(461.90,455.6) scale(1.35,1)" font-size="10">=</text>
<text transform="translate(472.30,455.6) scale(1.03,1.08)" font-size="10">.779</text>
<text transform="translate(275.50,624.70) scale(1,0.99)" font-size="10" text-anchor="start" font-weight="normal" font-style="normal" >Number at risk</text>
<text transform="translate(339.30,639.80) scale(1,0.99)" font-size="10" text-anchor="end" font-weight="normal" font-style="normal" >MPAL</text>
<text transform="translate(339.30,655.00) scale(1,0.99)" font-size="10" text-anchor="end" font-weight="normal" font-style="normal" >AML</text>
<text transform="translate(351.30,639.80) scale(1,0.99)" font-size="10" text-anchor="middle" font-weight="normal" font-style="normal" >211</text>
<text transform="translate(351.30,655.00) scale(1,0.99)" font-size="10" text-anchor="middle" font-weight="normal" font-style="normal" >212</text>
<text transform="translate(381.15,639.80) scale(1,0.99)" font-size="10" text-anchor="middle" font-weight="normal" font-style="normal" >131</text>
<text transform="translate(381.15,655.00) scale(1,0.99)" font-size="10" text-anchor="middle" font-weight="normal" font-style="normal" >123</text>
<text transform="translate(411.00,639.80) scale(1,0.99)" font-size="10" text-anchor="middle" font-weight="normal" font-style="normal" >100</text>
<text transform="translate(411.00,655.00) scale(1,0.99)" font-size="10" text-anchor="middle" font-weight="normal" font-style="normal" >92</text>
<text transform="translate(440.85,639.80) scale(1,0.99)" font-size="10" text-anchor="middle" font-weight="normal" font-style="normal" >79</text>
<text transform="translate(440.85,655.00) scale(1,0.99)" font-size="10" text-anchor="middle" font-weight="normal" font-style="normal" >80</text>
<text transform="translate(470.70,639.80) scale(1,0.99)" font-size="10" text-anchor="middle" font-weight="normal" font-style="normal" >63</text>
<text transform="translate(470.70,655.00) scale(1,0.99)" font-size="10" text-anchor="middle" font-weight="normal" font-style="normal" >71</text>
<text transform="translate(500.55,639.80) scale(1,0.99)" font-size="10" text-anchor="middle" font-weight="normal" font-style="normal" >51</text>
<text transform="translate(500.55,655.00) scale(1,0.99)" font-size="10" text-anchor="middle" font-weight="normal" font-style="normal" >60</text>
<rect x="0.5" y="0.5" width="519" height="665" fill="none" stroke="#222" stroke-width="1"/>
</svg>
</body></html>
